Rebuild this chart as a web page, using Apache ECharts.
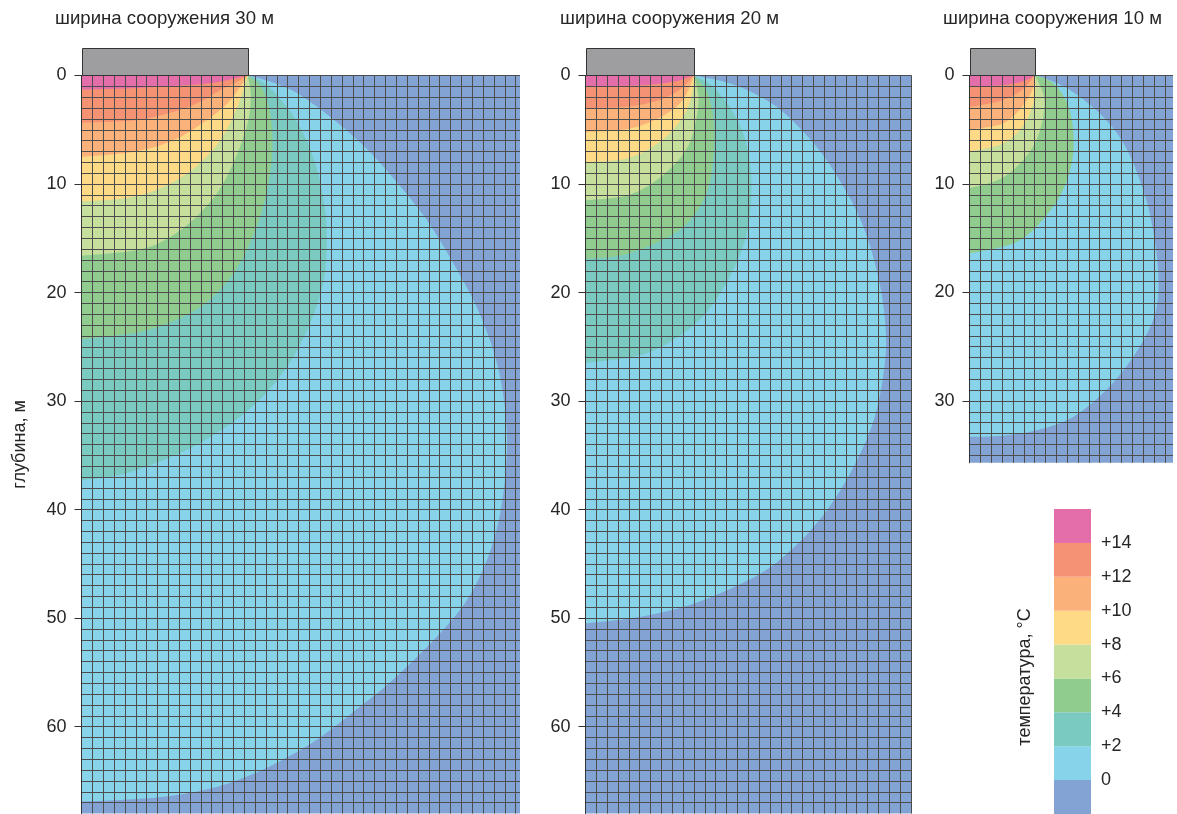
<!DOCTYPE html>
<html>
<head>
<meta charset="utf-8">
<script src="https://cdn.jsdelivr.net/npm/echarts@6/dist/echarts.min.js"></script>
<style>
  html, body { margin: 0; padding: 0; background: #fff; }
  #chart { width: 1177px; height: 814px; }
</style>
</head>
<body>
<div id="chart"></div>
<script>
// Steady-state ground temperature under a heated structure (half section, symmetry axis at x = 0).
// Isotherms are stored as [distance from axis, depth] points, from the footing edge to the axis.

const levels = [0, 2, 4, 6, 8, 10, 12, 14];                 // isotherm levels, °C
const bandLows = [-2, 0, 2, 4, 6, 8, 10, 12, 14];           // legend bands
const bandColors = ['#83a3d4', '#86d3ea', '#7acac2', '#8fcc8e', '#c6df9c',
                    '#fed986', '#fbb27a', '#f59274', '#e46eaa'];
const legendTicks = [0, 2, 4, 6, 8, 10, 12, 14];
const depthTicks30 = [0, 10, 20, 30, 40, 50, 60];
const depthTicks10 = [0, 10, 20, 30];
const structureWidths = [30, 20, 10];                        // m
const footingHalf = [15.3, 10, 6];                           // drawn half-width of the structure
const footingHeight = 2.5;

// --- structure 30 m ---
const iso30_0 = [[15.3,0],[17.5,0.6],[19.8,1.6],[22.9,3.8],[25.8,6.3],[28.6,9.3],[31.8,13.3],[34.6,17.9],[36.7,22],[38.4,27],[39.2,33],[38.8,39],[37.7,43.7],[35.9,47.7],[33.4,51],[28.9,55.5],[25.6,58.2],[20.6,61.9],[14.2,65],[8,66.4],[0,66.9]];
const iso30_2 = [[15.3,0],[16.5,0.5],[18,1.8],[20,4.5],[21.5,8],[22.4,12],[22.6,15.5],[22.3,19],[21.2,22.5],[19.6,25.8],[17.5,28.7],[14.8,31.3],[11.7,33.4],[8.6,35],[4,36.7],[0,37.3]];
const iso30_4 = [[15.3,0],[16.5,1],[17.3,3],[17.6,6],[17.3,9.5],[16.3,13.5],[14.4,17.6],[11.9,20.6],[9,22.4],[5.5,23.6],[0,24.3]];
const iso30_6 = [[15.3,0],[15.6,1.6],[15.4,4.0],[14.4,7.1],[12.9,10.2],[11,12.6],[8.6,14.6],[5.5,16.0],[0,16.6]];
const iso30_8 = [[15.3,0],[15.0,1.0],[14.4,2.8],[13.2,5.3],[11.6,7.4],[9.5,9.2],[7,10.5],[4,11.3],[0,11.6]];
const iso30_10 = [[15.3,0],[14.5,1.2],[13.5,2.5],[11.7,4.0],[8.6,5.9],[5,7.0],[0,7.5]];
const iso30_12 = [[15.3,0],[14.3,0.6],[12.9,1.3],[10.1,2.8],[5.5,4.05],[0,4.35]];
const iso30_14 = [[15.3,0],[12,0.7],[8,1.0],[4,1.2],[0,1.3]];

// --- structure 20 m ---
const iso20_0 = [[10,0],[12.5,0.5],[14.8,1.3],[17.9,3.1],[21,6.2],[23.4,9.6],[25.6,13.9],[27.1,19.1],[27.7,24],[27.4,28],[26.5,32],[25,35.5],[23,39],[20.5,42.2],[17.3,45.1],[14.2,46.9],[9.6,48.8],[5,49.9],[0,50.5]];
const iso20_2 = [[10,0],[11.7,1.0],[13.6,3.4],[14.8,6.2],[15.3,10.2],[14.8,14.8],[13,19.1],[10.2,22.8],[5.6,25.6],[0,26.5]];
const iso20_4 = [[10,0],[11.2,1.5],[11.8,4],[11.8,7.4],[11.1,11],[8.7,14.2],[4,16.4],[0,16.9]];
const iso20_6 = [[10,0],[10.4,1.9],[10.2,4.1],[9.3,6.8],[7,9.3],[4,11],[0,11.5]];
const iso20_8 = [[10,0],[9.8,1.8],[9,3.8],[7,6.0],[4,7.6],[0,8.0]];
const iso20_10 = [[10,0],[9,2.2],[7,3.8],[4,4.9],[0,5.2]];
const iso20_12 = [[10,0],[8.7,1.3],[7,2.2],[4,2.85],[0,3.0]];
const iso20_14 = [[10,0],[8,0.6],[5,0.9],[0,1.0]];

// --- structure 10 m (the +2 isotherm merges with +4 here) ---
const iso10_0 = [[6,0],[6.8,0.2],[9.2,1.3],[12.3,3.8],[14.5,6.8],[16.3,11.5],[17.2,16.1],[17.4,19.8],[16.9,22.6],[15.1,25.9],[12.6,29],[9.5,31.5],[6.2,32.7],[3.1,33.2],[0,33.3]];
const iso10_4 = [[6,0],[7.7,0.7],[9.1,2.8],[9.6,5.9],[9.2,9.0],[7.7,12.1],[4.6,15.2],[0,16.4]];
const iso10_6 = [[6,0],[6.3,0.5],[6.9,2.2],[6.6,4.7],[5.5,7.1],[3.1,9.4],[0,10.4]];
const iso10_8 = [[6,0],[6.1,1],[5.9,2.5],[4.9,4.7],[3,6.3],[0,7.0]];
const iso10_10 = [[6,0],[5.8,1.3],[4.9,2.8],[3.1,4.4],[0,5.0]];
const iso10_12 = [[6,0],[4.9,1.3],[3,2.3],[0,2.9]];
const iso10_14 = [[6,0],[5,0.5],[3,0.9],[0,1.0]];

const FONT = '"Liberation Sans", Arial, sans-serif';
const TEXT = '#262626';
const MESH = '#4d4d4d';

const panels = [
  { left: 81.5,  top: 75.5, width: 438.5, height: 738,   xMax: 40.4,  yMax: 68,   ticks: depthTicks30, titleLeft: 50,
    isoLevels: [0, 2, 4, 6, 8, 10, 12, 14], iso: [iso30_0, iso30_2, iso30_4, iso30_6, iso30_8, iso30_10, iso30_12, iso30_14] },
  { left: 585.5, top: 75.5, width: 326,   height: 738,   xMax: 30.05, yMax: 68,   ticks: depthTicks30, titleLeft: 555,
    isoLevels: [0, 2, 4, 6, 8, 10, 12, 14], iso: [iso20_0, iso20_2, iso20_4, iso20_6, iso20_8, iso20_10, iso20_12, iso20_14] },
  { left: 969.5, top: 75.5, width: 203.5, height: 387.3, xMax: 18.75, yMax: 35.7, ticks: depthTicks10, titleLeft: 938,
    isoLevels: [0, 4, 6, 8, 10, 12, 14], iso: [iso10_0, iso10_4, iso10_6, iso10_8, iso10_10, iso10_12, iso10_14] }
];

function colorAbove(level) {
  return bandColors[levels.indexOf(level) + 1];
}

// Smooth open curve through pixel points (Catmull-Rom segments as cubic Béziers)
function smoothPath(px) {
  const n = px.length;
  let d = 'M' + px[0][0] + ',' + px[0][1];
  for (let i = 0; i < n - 1; i++) {
    const p0 = px[Math.max(i - 1, 0)], p1 = px[i], p2 = px[i + 1], p3 = px[Math.min(i + 2, n - 1)];
    const c1x = p1[0] + (p2[0] - p0[0]) / 6, c1y = p1[1] + (p2[1] - p0[1]) / 6;
    const c2x = p2[0] - (p3[0] - p1[0]) / 6, c2y = p2[1] - (p3[1] - p1[1]) / 6;
    d += 'C' + c1x + ',' + c1y + ',' + c2x + ',' + c2y + ',' + p2[0] + ',' + p2[1];
  }
  return d;
}

const grid = [], xAxis = [], yAxis = [], series = [], title = [];

panels.forEach((p, g) => {
  grid.push({ left: p.left, top: p.top, width: p.width, height: p.height,
              show: true, backgroundColor: bandColors[0], borderWidth: 0 });
  title.push({ text: 'ширина сооружения ' + structureWidths[g] + ' м', left: p.titleLeft, top: 4,
               textStyle: { fontFamily: FONT, fontSize: 18.6, fontWeight: 'normal', color: TEXT } });
  xAxis.push({
    gridIndex: g, type: 'value', min: 0, max: p.xMax, interval: 1, z: 10,
    axisLine: { show: false }, axisTick: { show: false }, axisLabel: { show: false },
    splitLine: { show: true, showMinLine: false, showMaxLine: false, lineStyle: { color: MESH, width: 1 } }
  });
  const yLabelIndex = yAxis.length;
  // depth scale with labels every 10 m
  yAxis.push({
    gridIndex: g, type: 'value', inverse: true, min: 0, max: p.yMax, interval: 10, z: 11,
    name: g === 0 ? 'глубина, м' : '', nameLocation: 'middle', nameGap: 52,
    nameTextStyle: { fontFamily: FONT, fontSize: 18, color: TEXT },
    axisLine: { show: true, lineStyle: { color: '#333', width: 1 } },
    axisTick: { show: true, length: 7, customValues: p.ticks, lineStyle: { color: '#333' } },
    axisLabel: { show: true, customValues: p.ticks, margin: 15, fontFamily: FONT, fontSize: 18, color: TEXT },
    splitLine: { show: false }
  });
  // 1 m computational mesh rows
  yAxis.push({
    gridIndex: g, type: 'value', inverse: true, min: 0, max: p.yMax, interval: 1, z: 10,
    axisLine: { show: false }, axisTick: { show: false }, axisLabel: { show: false },
    splitLine: { show: true, showMinLine: true, showMaxLine: false, lineStyle: { color: MESH, width: 1 } }
  });

  // temperature bands: each isotherm encloses the warmer region next to the footing
  series.push({
    type: 'custom', xAxisIndex: g, yAxisIndex: yLabelIndex, clip: true, z: 2, silent: true,
    data: p.iso.map((_, k) => [k]),
    renderItem: (params, api) => {
      const k = api.value(0);
      const px = p.iso[k].map(pt => api.coord(pt));
      const o = api.coord([0, 0]);
      const d = smoothPath(px) + 'L' + o[0] + ',' + o[1] + 'Z';
      return { type: 'path', shape: { pathData: d },
               style: { fill: colorAbove(p.isoLevels[k]), stroke: null } };
    }
  });

  // structure footprint above the ground surface
  series.push({
    type: 'custom', xAxisIndex: g, yAxisIndex: yLabelIndex, clip: false, z: 12, silent: true,
    data: [[footingHalf[g], footingHeight]],
    renderItem: (params, api) => {
      const a = api.coord([0, -api.value(1)]);
      const b = api.coord([api.value(0), 0]);
      return { type: 'rect',
               shape: { x: Math.round(a[0]) + 0.5, y: Math.round(a[1]) + 0.5,
                        width: Math.round(b[0] - a[0]), height: Math.round(b[1] - a[1]) },
               style: { fill: '#9e9ea0', stroke: '#333', lineWidth: 1 } };
    }
  });
});

// colour scale
const legendY = yAxis.length;
grid.push({ left: 1054, top: 509, width: 37, height: 306 });
xAxis.push({ gridIndex: 3, type: 'value', min: 0, max: 1, show: false });
yAxis.push({
  gridIndex: 3, type: 'value', min: -2, max: 16, interval: 2, position: 'right',
  axisLine: { show: false }, axisTick: { show: false }, splitLine: { show: false },
  axisLabel: { show: true, customValues: legendTicks, margin: 10, fontFamily: FONT, fontSize: 18, color: TEXT,
               formatter: v => (v > 0 ? '+' + v : String(v)) }
});
series.push({
  type: 'custom', xAxisIndex: 3, yAxisIndex: legendY, clip: false, silent: true,
  data: bandLows.map((v, i) => [0, v, i]),
  renderItem: (params, api) => {
    const lo = api.value(1);
    const a = api.coord([0, lo + 2]);
    const b = api.coord([1, lo]);
    return { type: 'rect', shape: { x: a[0], y: a[1], width: b[0] - a[0], height: b[1] - a[1] },
             style: { fill: bandColors[api.value(2)], stroke: null } };
  }
});

const chart = echarts.init(document.getElementById('chart'), null, { renderer: 'canvas' });
chart.setOption({
  animation: false,
  backgroundColor: '#ffffff',
  title, grid, xAxis, yAxis, series,
  graphic: [{
    type: 'text', x: 1025, y: 677, rotation: Math.PI / 2, silent: true,
    style: { text: 'температура, °C', font: '18px ' + FONT, fill: TEXT,
             align: 'center', verticalAlign: 'middle', textAlign: 'center', textVerticalAlign: 'middle' }
  }]
});
</script>
</body>
</html>
